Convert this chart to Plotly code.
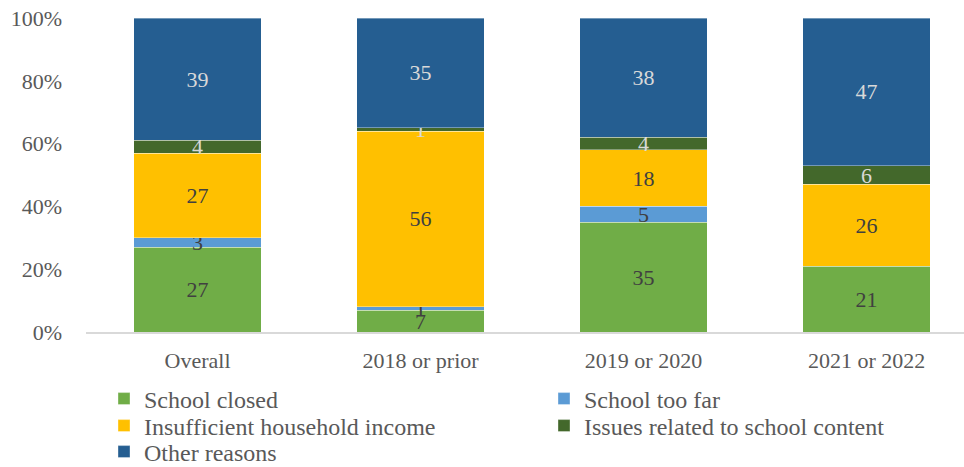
import plotly.graph_objects as go

categories = ["Overall", "2018 or prior", "2019 or 2020", "2021 or 2022"]

school_closed = [27, 7, 35, 21]
school_too_far = [3, 1, 5, None]
insufficient_income = [27, 56, 18, 26]
school_content = [4, 1, 4, 6]
other_reasons = [39, 35, 38, 47]

y_ticks = [0, 20, 40, 60, 80, 100]
y_tick_labels = ["0%", "20%", "40%", "60%", "80%", "100%"]

# name, values, fill colour, label colour
series = [
    ("School closed", school_closed, "#70AD47", "#404040"),
    ("School too far", school_too_far, "#5B9BD5", "#404040"),
    ("Insufficient household income", insufficient_income, "#FFC000", "#404040"),
    ("Issues related to school content", school_content, "#43682B", "#D9D9D9"),
    ("Other reasons", other_reasons, "#255E91", "#D9D9D9"),
]

# one legend box per entry, laid out as a two-column grid (left x, row centre y)
legend_slots = [(104, 399), (544, 399), (104, 426), (544, 426), (104, 452)]

FONT = "Liberation Serif, Times New Roman, serif"
GREY = "#595959"
SIZE = 22
LEG_SIZE = 24

fig = go.Figure()
legend_layout = {}
for i, (name, vals, color, tcolor) in enumerate(series):
    key = "legend" if i == 0 else f"legend{i + 1}"
    fig.add_trace(go.Bar(
        name=name,
        x=categories,
        y=vals,
        legend=key,
        marker=dict(color=color, line=dict(color="rgba(255,255,255,0.6)", width=0.6)),
        text=[("" if v is None else str(v)) for v in vals],
        textposition="inside",
        insidetextanchor="middle",
        textangle=0,
        textfont=dict(family=FONT, size=SIZE, color=tcolor),
        hoverinfo="skip",
    ))
    lx, ly = legend_slots[i]
    legend_layout[key] = dict(
        orientation="h",
        xref="container",
        yref="container",
        x=lx / 964,
        y=1 - ly / 467,
        xanchor="left",
        yanchor="middle",
        font=dict(family=FONT, size=LEG_SIZE, color=GREY),
        itemclick=False,
        bgcolor="rgba(0,0,0,0)",
    )

fig.update_layout(
    barmode="stack",
    bargap=0.43,
    width=964,
    height=467,
    margin=dict(l=86, r=0, t=18, b=135),
    paper_bgcolor="white",
    plot_bgcolor="white",
    font=dict(family=FONT, size=SIZE, color=GREY),
    uniformtext=dict(minsize=SIZE, mode="show"),
    xaxis=dict(
        range=[-0.5, 3.437],
        showline=True,
        linecolor="#D9D9D9",
        linewidth=1.5,
        ticks="",
        showgrid=False,
        ticklabelstandoff=8,
        tickfont=dict(family=FONT, size=SIZE, color=GREY),
    ),
    yaxis=dict(
        range=[0, 100],
        tickvals=y_ticks,
        ticktext=y_tick_labels,
        showgrid=False,
        zeroline=False,
        showline=False,
        ticks="",
        ticklabelstandoff=23,
        tickfont=dict(family=FONT, size=SIZE, color=GREY),
    ),
    showlegend=True,
    **legend_layout,
)

fig.write_html("out.html")
